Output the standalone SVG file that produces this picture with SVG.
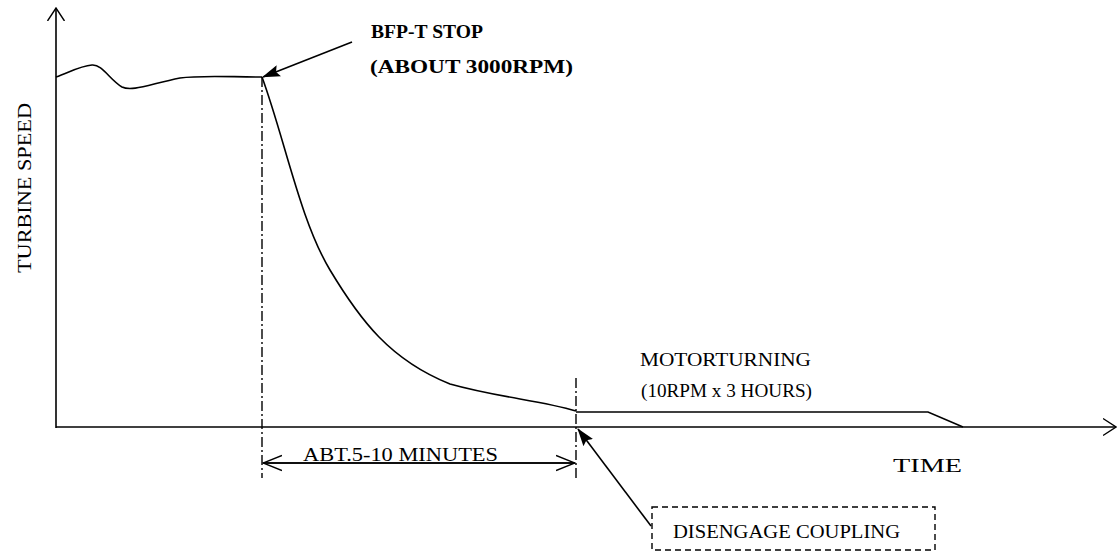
<svg xmlns="http://www.w3.org/2000/svg" width="1118" height="553" viewBox="0 0 1118 553">
<defs>
<style>
.ln{fill:none;stroke:#000;stroke-width:1.6}
.dd{fill:none;stroke:#000;stroke-width:1.4;stroke-dasharray:10 3 2 3}
.t{font-family:"Liberation Serif",serif;font-size:18px;fill:#000}
.b{font-weight:bold}
</style>
<marker id="fa" markerWidth="18" markerHeight="12" refX="17" refY="6" orient="auto" markerUnits="userSpaceOnUse">
<path d="M0,0 L18,6 L0,12 L3,6 Z" fill="#000"/>
</marker>
<marker id="oa" markerWidth="14" markerHeight="20" refX="13" refY="10" orient="auto" markerUnits="userSpaceOnUse">
<path d="M0,1.5 L13,10 L0,18.5" fill="none" stroke="#000" stroke-width="1.4"/>
</marker>
<marker id="da" markerWidth="20" markerHeight="18" refX="19" refY="9" orient="auto" markerUnits="userSpaceOnUse">
<path d="M0,1.5 L19,9 L0,16.5" fill="none" stroke="#000" stroke-width="1.4"/>
</marker>
</defs>
<rect width="1118" height="553" fill="#fff"/>
<g id="axes">
<line class="ln" x1="56" y1="428" x2="56" y2="8" marker-end="url(#oa)"/>
<line class="ln" x1="56" y1="427" x2="1116" y2="427" marker-end="url(#oa)"/>
<text class="t" transform="translate(31,188) rotate(-90)" text-anchor="middle" textLength="170" lengthAdjust="spacingAndGlyphs">TURBINE SPEED</text>
<text class="t" x="893" y="472" textLength="69" lengthAdjust="spacingAndGlyphs">TIME</text>
</g>
<g id="curve">
<path class="ln" d="M56,77 C70,72 80,66 92,65 C102,64 110,80 122,87 C132,92 150,84 180,78 C200,75 230,77 262,77"/>
<path class="ln" d="M262,77 C285,140 300,220 330,270 C360,320 390,360 450,384 C500,398 540,400 576,411"/>
<path class="ln" d="M576,412 L928,412 L963,427"/>
</g>
<g id="guides">
<line class="dd" x1="262" y1="77" x2="262" y2="478"/>
<line class="dd" x1="576" y1="378" x2="576" y2="478"/>
</g>
<g id="dimension">
<line class="ln" x1="264" y1="463" x2="575" y2="463" marker-end="url(#da)"/>
<line class="ln" x1="574" y1="463" x2="263" y2="463" marker-end="url(#da)"/>
<text class="t" x="303" y="461" textLength="195" lengthAdjust="spacingAndGlyphs">ABT.5-10  MINUTES</text>
</g>
<g id="bfp-label">
<line class="ln" x1="352" y1="42" x2="263" y2="77" marker-end="url(#fa)"/>
<text class="t b" x="371" y="38" textLength="112" lengthAdjust="spacingAndGlyphs">BFP-T STOP</text>
<text class="t b" x="370" y="73" textLength="203" lengthAdjust="spacingAndGlyphs">(ABOUT 3000RPM)</text>
</g>
<g id="motor-label">
<text class="t" x="640" y="366" textLength="171" lengthAdjust="spacingAndGlyphs">MOTORTURNING</text>
<text class="t" x="641" y="397" textLength="171" lengthAdjust="spacingAndGlyphs">(10RPM x 3 HOURS)</text>
</g>
<g id="disengage">
<rect x="652" y="507" width="283" height="43" fill="none" stroke="#000" stroke-width="1.4" stroke-dasharray="6 4"/>
<text class="t" x="673" y="538" textLength="227" lengthAdjust="spacingAndGlyphs">DISENGAGE COUPLING</text>
<line class="ln" x1="651" y1="526" x2="578" y2="429" marker-end="url(#fa)"/>
</g>
</svg>
